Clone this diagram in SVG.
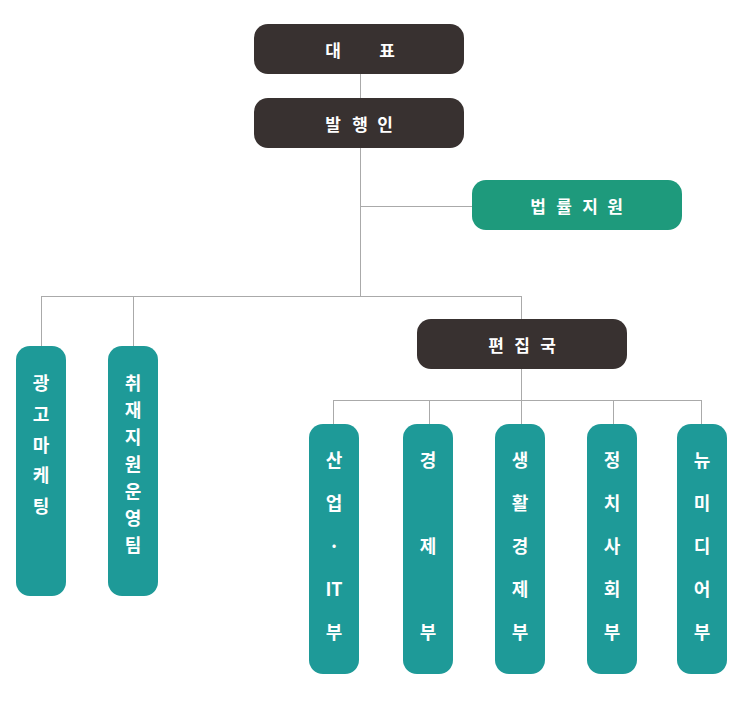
<svg xmlns="http://www.w3.org/2000/svg" width="740" height="727" viewBox="0 0 740 727">
<style>
.dark{fill:#383130}
.legal{fill:#1e9a7c}
.teal{fill:#1e9a98}
.t{fill:#ffffff;font-family:"Noto Sans CJK KR","Noto Sans",sans-serif;font-weight:bold;font-size:17px;text-anchor:middle;dominant-baseline:central}
.v{font-size:18px}
.ln{stroke:#aaaaaa;stroke-width:1;fill:none}
</style>
<rect width="740" height="727" fill="#ffffff"/>
<g id="connectors">
<path class="ln" d="M360.5 74V296.5M360.5 206.5H472M41.5 296.5H521.5M41.5 296V346M133.5 296V346M521.5 296V319"/>
<path class="ln" d="M521.5 369V424M333.5 400.5H701.5M333.5 400V424M429.5 400V424M613.5 400V424M701.5 400V424"/>
</g>
<g id="ceo"><rect class="dark" x="254" y="24" width="210" height="50" rx="14"/><text class="t" x="333 387" y="49">대표</text></g>
<g id="publisher"><rect class="dark" x="254" y="98" width="210" height="50" rx="14"/><text class="t" x="333 360 385" y="123">발행인</text></g>
<g id="legal"><rect class="legal" x="472" y="180" width="210" height="50" rx="14"/><text class="t" x="538 564 590 615" y="205">법률지원</text></g>
<g id="editorial"><rect class="dark" x="417" y="319" width="210" height="50" rx="14"/><text class="t" x="496 522 548" y="344">편집국</text></g>
<g id="ad"><rect class="teal" x="16" y="346" width="50" height="250" rx="14"/><text class="t v" x="41" y="382">광</text><text class="t v" x="41" y="413">고</text><text class="t v" x="41" y="444">마</text><text class="t v" x="41" y="474">케</text><text class="t v" x="41" y="505">팅</text></g>
<g id="support"><rect class="teal" x="108" y="346" width="50" height="250" rx="14"/><text class="t v" x="133" y="382">취</text><text class="t v" x="133" y="409">재</text><text class="t v" x="133" y="436">지</text><text class="t v" x="133" y="463">원</text><text class="t v" x="133" y="490">운</text><text class="t v" x="133" y="517">영</text><text class="t v" x="133" y="544">팀</text></g>
<g id="industry"><rect class="teal" x="309" y="424" width="50" height="250" rx="14"/><text class="t v" x="334" y="459">산</text><text class="t v" x="334" y="502">업</text><text class="t v" x="334" y="545">·</text><text class="t v" x="334" y="588">IT</text><text class="t v" x="334" y="631">부</text></g>
<g id="economy"><rect class="teal" x="403" y="424" width="50" height="250" rx="14"/><text class="t v" x="428" y="459">경</text><text class="t v" x="428" y="545">제</text><text class="t v" x="428" y="631">부</text></g>
<g id="life"><rect class="teal" x="495" y="424" width="50" height="250" rx="14"/><text class="t v" x="520" y="459">생</text><text class="t v" x="520" y="502">활</text><text class="t v" x="520" y="545">경</text><text class="t v" x="520" y="588">제</text><text class="t v" x="520" y="631">부</text></g>
<g id="politics"><rect class="teal" x="587" y="424" width="50" height="250" rx="14"/><text class="t v" x="612" y="459">정</text><text class="t v" x="612" y="502">치</text><text class="t v" x="612" y="545">사</text><text class="t v" x="612" y="588">회</text><text class="t v" x="612" y="631">부</text></g>
<g id="newmedia"><rect class="teal" x="677" y="424" width="50" height="250" rx="14"/><text class="t v" x="702" y="459">뉴</text><text class="t v" x="702" y="502">미</text><text class="t v" x="702" y="545">디</text><text class="t v" x="702" y="588">어</text><text class="t v" x="702" y="631">부</text></g>
</svg>
